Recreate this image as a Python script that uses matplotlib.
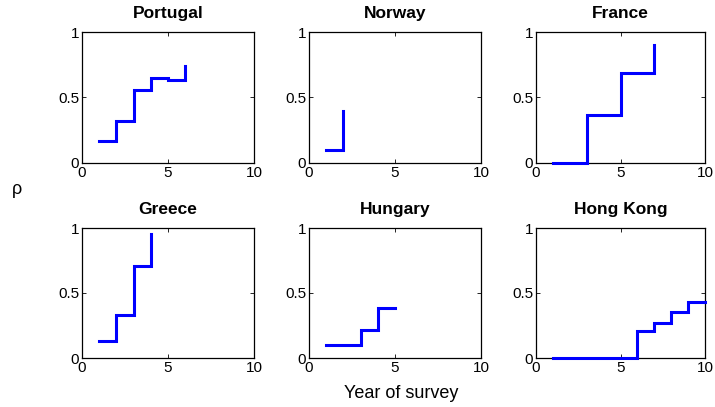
import matplotlib
matplotlib.use("Agg")
import matplotlib.pyplot as plt
import numpy as np

plt.rcParams['font.family'] = ['Liberation Sans', 'DejaVu Sans']

countries = ["Portugal", "Norway", "France", "Greece", "Hungary", "Hong Kong"]
years = {
    "Portugal": [1, 2, 3, 4, 5, 6],
    "Norway": [1, 2],
    "France": [1, 2, 3, 4, 5, 6, 7],
    "Greece": [1, 2, 3, 4],
    "Hungary": [1, 2, 3, 4, 5],
    "Hong Kong": [1, 2, 3, 4, 5, 6, 7, 8, 9, 10],
}
rho_portugal = [0.17, 0.32, 0.56, 0.65, 0.63, 0.74]
rho_norway = [0.10, 0.40]
rho_france = [0.0, 0.0, 0.37, 0.37, 0.685, 0.685, 0.90]
rho_greece = [0.128, 0.328, 0.708, 0.955]
rho_hungary = [0.10, 0.10, 0.214, 0.385, 0.385]
rho_hongkong = [0.0, 0.0, 0.0, 0.0, 0.0, 0.204, 0.27, 0.357, 0.429, 0.429]
values = {
    "Portugal": rho_portugal, "Norway": rho_norway, "France": rho_france,
    "Greece": rho_greece, "Hungary": rho_hungary, "Hong Kong": rho_hongkong,
}
x_ticks = [0, 5, 10]
x_ticklabels = ["0", "5", "10"]
y_ticks = [0, 0.5, 1]
y_ticklabels = ["0", "0.5", "1"]

W, H = 715, 407
fig = plt.figure(figsize=(W / 100, H / 100), dpi=100)

cols = [(82, 254), (309, 481), (536, 705)]
rows = [(32, 163), (228, 358)]

for i, c in enumerate(countries):
    r, k = divmod(i, 3)
    l, rgt = cols[k]
    t, b = rows[r]
    ax = fig.add_axes([l / W, 1 - b / H, (rgt - l) / W, (b - t) / H])
    ax.step(years[c], values[c], where='post', color=(0, 0, 1), lw=2.2,
            solid_joinstyle='miter', clip_on=False, zorder=5)
    ax.set_xlim(0, 10)
    ax.set_ylim(0, 1)
    ax.set_xticks(x_ticks)
    ax.set_xticklabels(x_ticklabels)
    ax.set_yticks(y_ticks)
    ax.set_yticklabels(y_ticklabels)
    ax.tick_params(direction='in', length=3, width=0.6, top=True, right=True,
                   labelsize=11, pad=2)
    for s in ax.spines.values():
        s.set_linewidth(0.9)
        s.set_zorder(2)
    ax.set_title(c, fontsize=12.5, fontweight='bold', pad=10)

fig.text(17 / W, 1 - 190 / H, "ρ", fontsize=13, ha='center', va='center')
fig.text(401 / W, 1 - 394 / H, "Year of survey", fontsize=13, ha='center', va='center')

fig.savefig("out.png", dpi=100)
